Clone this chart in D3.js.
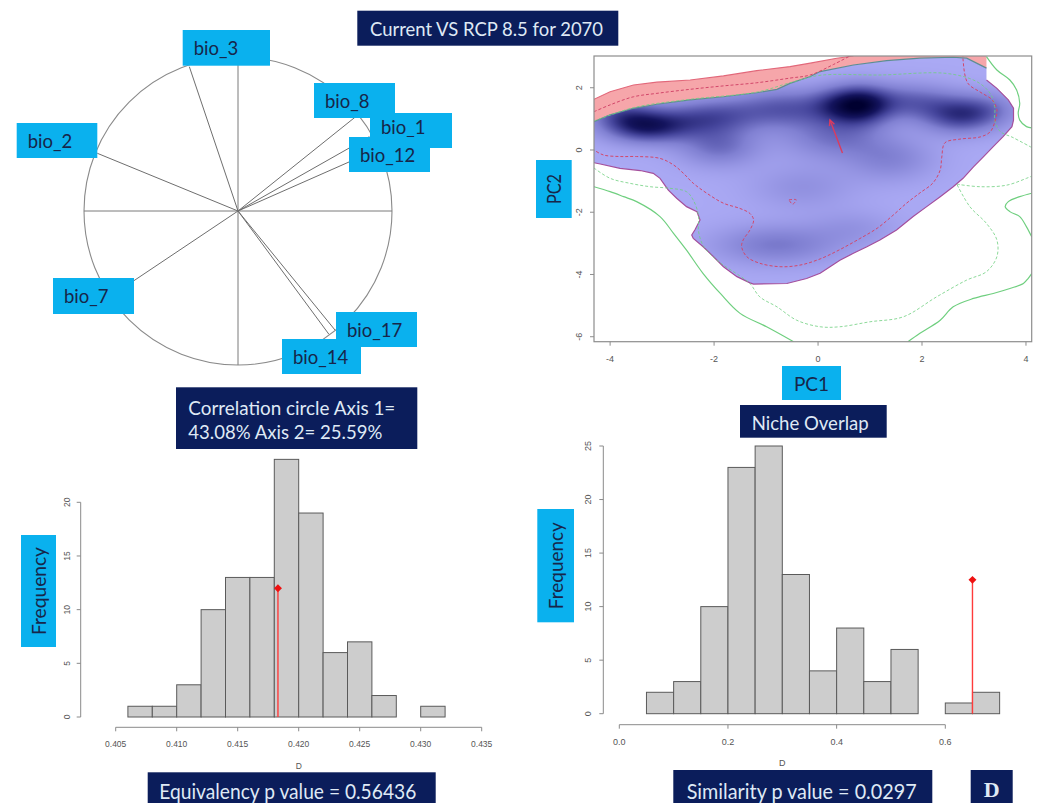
<!DOCTYPE html>
<html>
<head>
<meta charset="utf-8">
<script src="https://cdn.jsdelivr.net/npm/d3@7"></script>
<style>
  html, body { margin: 0; padding: 0; background: #ffffff; }
  svg { display: block; }
</style>
</head>
<body>
<svg id="fig" width="1038" height="803"></svg>
<script>
// ---------------- data ----------------
// correlation circle (PCA loadings on axes 1 and 2)
const corrVars  = ["bio_1", "bio_8", "bio_12", "bio_3", "bio_2", "bio_7", "bio_17", "bio_14"];
const corrAxis1 = [0.853, 0.765, 0.897, -0.316, -0.914, -0.814, 0.630, 0.590];
const corrAxis2 = [0.483, 0.613, 0.396, 0.937, 0.375, -0.545, -0.773, -0.800];

// equivalency test: simulated D histogram
const equivBreaks = [0.406, 0.408, 0.410, 0.412, 0.414, 0.416, 0.418, 0.420, 0.422, 0.424, 0.426, 0.428, 0.430, 0.432];
const equivCounts = [1, 1, 3, 10, 13, 13, 24, 19, 6, 7, 2, 0, 1];
const equivObs = 0.4183;
const equivTicksX = [0.405, 0.410, 0.415, 0.420, 0.425, 0.430, 0.435];
const equivTicksY = [0, 5, 10, 15, 20];

// similarity test: simulated D histogram
const simBreaks = [0.05, 0.10, 0.15, 0.20, 0.25, 0.30, 0.35, 0.40, 0.45, 0.50, 0.55, 0.60, 0.65, 0.70];
const simCounts = [2, 3, 10, 23, 25, 13, 4, 8, 3, 6, 0, 1, 2];
const simObs = 0.650;
const simTicksX = [0.0, 0.2, 0.4, 0.6];
const simTicksY = [0, 5, 10, 15, 20, 25];

// niche overlap in PC1/PC2 space
const pcTicksX = [-4, -2, 0, 2, 4];
const pcTicksY = [2, 0, -2, -4, -6];

// upper edge of the expansion (pink) band
const expansionTop = [[-4.31,1.63],[-4.0,1.87],[-3.55,2.09],[-3.10,2.18],[-2.46,2.25],[-1.82,2.38],
  [-1.18,2.55],[-0.54,2.68],[-0.15,2.79],[0.36,2.95],[0.68,3.02],[3.24,3.02]];
// upper edge of the stability (blue) zone
const stabilityTop = [[-4.31,0.91],[-4.0,1.13],[-3.55,1.34],[-3.10,1.47],[-2.46,1.61],[-1.82,1.71],
  [-1.18,1.84],[-0.79,1.95],[-0.54,2.14],[-0.15,2.36],[0.04,2.52],[0.68,2.73],[1.32,2.87],
  [1.96,2.95],[2.6,2.98],[2.86,2.95],[3.24,2.63]];
// rest of the stability outline, clockwise from the top right
const stabilityRest = [[3.24,2.25],[3.44,1.98],[3.66,1.61],[3.76,1.34],[3.76,0.96],[3.73,0.75],
  [3.56,0.43],[3.37,0.11],[3.18,-0.22],[2.99,-0.54],[2.79,-0.91],[2.60,-1.18],[2.35,-1.50],
  [2.09,-1.82],[1.83,-2.14],[1.51,-2.57],[1.19,-2.89],[0.94,-3.11],[0.68,-3.32],[0.42,-3.54],
  [0.23,-3.75],[0.04,-3.96],[-0.22,-4.13],[-0.60,-4.29],[-1.24,-4.31],[-1.31,-4.27],[-1.56,-4.07],
  [-1.82,-3.75],[-2.01,-3.43],[-2.21,-3.11],[-2.40,-2.84],[-2.43,-2.73],[-2.37,-2.57],[-2.27,-2.25],
  [-2.33,-1.98],[-2.53,-1.82],[-2.72,-1.55],[-2.88,-1.29],[-3.04,-0.91],[-3.17,-0.75],[-3.42,-0.66],
  [-3.81,-0.59],[-4.19,-0.45],[-4.31,-0.41]];

// occurrence density kernels: centre x, centre y, sd x, sd y, weight
const peakX  = [0.80, -3.30, -2.10, 2.70, 1.80, -0.60, -1.90, 0.30, 1.40, -0.80, -0.30, 0.70, -3.80, 3.30, 0.25];
const peakY  = [1.45, 0.75, 1.05, 1.10, 1.55, 1.35, 0.10, 0.40, -0.30, -3.05, -1.20, -2.50, 1.20, 1.30, 1.50];
const peakSX = [0.42, 0.58, 0.65, 0.50, 0.60, 0.75, 0.55, 0.70, 0.60, 0.85, 0.70, 0.60, 0.45, 0.45, 0.35];
const peakSY = [0.45, 0.38, 0.42, 0.42, 0.42, 0.45, 0.45, 0.50, 0.50, 0.45, 0.50, 0.40, 0.35, 0.40, 0.40];
const peakW  = [0.88, 0.80, 0.52, 0.60, 0.45, 0.52, 0.42, 0.38, 0.30, 0.38, 0.20, 0.16, 0.38, 0.28, 0.20];

// contour lines
const redDashedTop = [[-4.31,1.23],[-4.0,1.45],[-3.55,1.71],[-3.10,1.82],[-2.46,1.95],[-1.82,2.06],
  [-1.18,2.16],[-0.54,2.31],[-0.15,2.41],[0.3,2.75],[0.7,3.1]];
const redDashedMain = [[2.79,3.1],[2.79,2.89],[2.88,2.15],[3.12,1.86],[3.35,1.61],[3.44,1.29],[3.40,0.90],
  [3.31,0.58],[3.12,0.42],[2.73,0.35],[2.44,0.23],[2.38,-0.23],[2.35,-0.64],[2.21,-1.06],[1.96,-1.38],
  [1.71,-1.70],[1.44,-2.10],[1.15,-2.50],[0.80,-2.85],[0.42,-3.20],[0.04,-3.50],[-0.35,-3.70],
  [-0.73,-3.75],[-1.12,-3.64],[-1.37,-3.43],[-1.47,-3.11],[-1.44,-2.89],[-1.31,-2.57],[-1.24,-2.25],
  [-1.31,-2.04],[-1.50,-1.88],[-1.82,-1.71],[-2.14,-1.39],[-2.40,-1.07],[-2.59,-0.75],[-2.78,-0.48],
  [-3.04,-0.27],[-3.49,-0.21],[-3.81,-0.21],[-4.13,-0.16],[-4.31,0.0]];
const redSmall = [[-0.56,-1.60],[-0.42,-1.60],[-0.49,-1.74],[-0.56,-1.60]];
const greenSolidLeft = [[-4.31,-1.18],[-4.0,-1.34],[-3.74,-1.50],[-3.49,-1.66],[-3.04,-2.14],
  [-2.78,-2.68],[-2.53,-3.22],[-2.21,-3.97],[-1.88,-4.61],[-1.50,-5.25],[-0.99,-5.68],[-0.47,-6.16]];
const greenSolidRightLow = [[1.73,-6.16],[1.96,-5.89],[2.35,-5.47],[2.60,-5.04],[2.99,-4.77],
  [3.37,-4.61],[3.69,-4.45],[3.95,-4.29],[4.04,-4.13],[4.11,-3.97]];
const greenSolidRightTop = [[3.24,3.0],[3.44,2.57],[3.69,2.25],[3.82,1.93],[3.88,1.50],[3.85,1.18],
  [3.88,0.96],[4.01,0.75],[4.11,0.71]];
const greenSolidRightMid = [[4.11,-1.39],[3.88,-1.50],[3.66,-1.66],[3.60,-1.82],[3.69,-1.98],
  [3.88,-2.14],[4.01,-2.47],[4.11,-2.79]];
const greenDashedLeft = [[-4.31,-0.58],[-4.0,-0.91],[-3.62,-1.07],[-3.23,-1.18],[-2.85,-1.23],
  [-2.53,-1.34],[-2.40,-1.61],[-2.30,-2.10],[-2.30,-2.60],[-2.20,-3.10],[-1.90,-3.60],[-1.50,-4.05],
  [-1.31,-4.29],[-1.12,-4.72],[-0.79,-5.04],[-0.41,-5.47],[0.04,-5.68],[0.42,-5.68],[1.0,-5.52],
  [1.64,-5.36],[2.28,-4.72],[2.86,-4.18],[3.24,-3.91],[3.44,-3.43],[3.44,-2.89],[3.24,-2.36],
  [2.92,-1.82],[2.67,-1.10]];
const greenDashedRight = [[2.67,-1.10],[3.12,-1.18],[3.63,-1.13],[4.01,-0.91],[4.11,-0.84]];
const greenDashedTop = [[-4.31,0.93],[-3.55,1.36],[-2.46,1.63],[-1.18,1.86],[-0.54,2.16],[0.04,2.40],
  [1.19,2.41],[2.47,2.46],[3.05,2.20],[3.31,1.82],[3.40,1.39],[3.40,0.96],[3.50,0.60],[3.75,0.40],[4.11,0.08]];

// shift of the niche centroid
const centroidFrom = [0.47, -0.10];
const centroidTo   = [0.23, 0.96];

// ---------------- drawing ----------------
const NAVY = "#0b1d5b", NAVY_TEXT = "#dfe9f5", CYAN = "#0ab1ee", CYAN_TEXT = "#17264a";
const UI_FONT = "Lato, 'Open Sans', sans-serif";
const R_FONT = "'Liberation Sans', Arial, sans-serif";
const svg = d3.select("#fig");
const defs = svg.append("defs");

function fitText(sel, width) {
  sel.attr("textLength", width).attr("lengthAdjust", "spacingAndGlyphs");
}

function navyBox(x, y, w, h, lines, tx, size, widths, lineYs) {
  const g = svg.append("g");
  g.append("rect").attr("x", x).attr("y", y).attr("width", w).attr("height", h).attr("fill", NAVY);
  lines.forEach((t, i) => {
    const el = g.append("text").attr("x", tx).attr("y", lineYs[i])
      .attr("dominant-baseline", "central")
      .attr("font-family", UI_FONT).attr("font-size", size).attr("fill", NAVY_TEXT).text(t);
    fitText(el, widths[i]);
  });
  return g;
}

function cyanBox(x, y, w, h, label, size, tw, rotate, dy) {
  const g = svg.append("g");
  g.append("rect").attr("x", x).attr("y", y).attr("width", w).attr("height", h).attr("fill", CYAN);
  const el = g.append("text")
    .attr("font-family", UI_FONT).attr("font-size", size).attr("fill", CYAN_TEXT)
    .attr("dominant-baseline", "central").text(label);
  if (rotate) {
    el.attr("text-anchor", "middle")
      .attr("transform", `translate(${x + w / 2},${y + h / 2}) rotate(-90)`);
  } else {
    el.attr("x", x + 11).attr("y", y + h / 2 + (dy || 0));
  }
  if (tw) fitText(el, tw);
  return g;
}

// ---- title ----
navyBox(357.3, 10.7, 261, 35, ["Current VS RCP 8.5 for 2070"], 370, 19.5, [233], [28.5]);

// ---- correlation circle ----
{
  const cx = 238, cy = 211, R = 154;
  const sx = d3.scaleLinear([-1, 1], [cx - R, cx + R]);
  const sy = d3.scaleLinear([-1, 1], [cy + R, cy - R]);
  const g = svg.append("g");
  g.append("circle").attr("cx", sx(0)).attr("cy", sy(0)).attr("r", sx(1) - sx(0))
    .attr("fill", "none").attr("stroke", "#8a8a8a").attr("stroke-width", 1.1);
  g.append("line").attr("x1", sx(-1)).attr("x2", sx(1)).attr("y1", sy(0)).attr("y2", sy(0))
    .attr("stroke", "#7a7a7a").attr("stroke-width", 1);
  g.append("line").attr("x1", sx(0)).attr("x2", sx(0)).attr("y1", sy(-1)).attr("y2", sy(1))
    .attr("stroke", "#7a7a7a").attr("stroke-width", 1);
  corrVars.forEach((v, i) => {
    g.append("line").attr("x1", sx(0)).attr("y1", sy(0))
      .attr("x2", sx(corrAxis1[i])).attr("y2", sy(corrAxis2[i]))
      .attr("stroke", "#6e6e6e").attr("stroke-width", 1);
  });
  // variable name tags, in stacking order: [x, y, width, height, text shift]
  const tagBox = {
    bio_1: [370, 113, 82, 35, -4], bio_8: [314, 83, 81, 35, 0], bio_12: [349, 137, 81, 35, 0],
    bio_3: [182.7, 30, 87.3, 35.7, 0], bio_2: [16.7, 123, 80.6, 35, 0], bio_7: [53, 278, 81, 36, 0],
    bio_17: [336, 312, 81, 35, 0], bio_14: [282, 339, 79, 35, 0]
  };
  corrVars.forEach(v => {
    const b = tagBox[v];
    cyanBox(b[0], b[1], b[2], b[3], v, 18.5, null, false, b[4]);
  });
}
navyBox(176, 387.3, 241.3, 61.7,
  ["Correlation circle Axis 1=", "43.08% Axis 2= 25.59%"], 188.3, 19.5, [207, 194], [407, 431.5]);

// ---- niche overlap ----
{
  const x = d3.scaleLinear([-4.31, 4.11], [594, 1031.7]);
  const y = d3.scaleLinear([-6.16, 3.02], [341.7, 56]);
  const line = d3.line().x(d => x(d[0])).y(d => y(d[1]));
  const smooth = d3.line().x(d => x(d[0])).y(d => y(d[1])).curve(d3.curveCatmullRom.alpha(0.5));

  defs.append("clipPath").attr("id", "frameClip").append("rect")
    .attr("x", x(-4.31)).attr("y", y(3.02)).attr("width", x(4.11) - x(-4.31)).attr("height", y(-6.16) - y(3.02));
  const stability = stabilityTop.concat(stabilityRest);
  defs.append("clipPath").attr("id", "stabClip").append("path").attr("d", line(stability) + "Z");

  const g = svg.append("g").attr("clip-path", "url(#frameClip)");

  // expansion band
  const expansion = expansionTop.concat([[3.24, 2.63]], stabilityTop.slice().reverse());
  g.append("path").attr("d", line(expansion) + "Z").attr("fill", "#f6a6aa").attr("stroke", "none");
  g.append("path").attr("d", line(expansionTop.slice(0, 11))).attr("fill", "none")
    .attr("stroke", "#e2687a").attr("stroke-width", 1.1);

  // occurrence density raster, shaded from light lavender to dark navy
  const px0 = Math.floor(x.range()[0]), px1 = Math.ceil(x.range()[1]);
  const py0 = Math.floor(y.range()[1]), py1 = Math.ceil(y.range()[0]);
  const W = px1 - px0, H = py1 - py0;
  const canvas = document.createElement("canvas");
  canvas.width = W; canvas.height = H;
  const ctx = canvas.getContext("2d");
  const img = ctx.createImageData(W, H);
  const shade = d3.scaleLinear([0, 0.35, 0.65, 0.9, 1.15], ["#aaa9f4", "#8080d2", "#45459c", "#14145e", "#000030"])
    .clamp(true);
  for (let j = 0; j < H; j++) {
    const vy = y.invert(py0 + j + 0.5);
    for (let i = 0; i < W; i++) {
      const vx = x.invert(px0 + i + 0.5);
      let f = 0;
      for (let k = 0; k < peakX.length; k++) {
        const dx = (vx - peakX[k]) / peakSX[k], dy = (vy - peakY[k]) / peakSY[k];
        f += peakW[k] * Math.exp(-0.5 * (dx * dx + dy * dy));
      }
      const c = d3.rgb(shade(f));
      const o = 4 * (j * W + i);
      img.data[o] = c.r; img.data[o + 1] = c.g; img.data[o + 2] = c.b; img.data[o + 3] = 255;
    }
  }
  ctx.putImageData(img, 0, 0);
  g.append("image").attr("x", px0).attr("y", py0).attr("width", W).attr("height", H)
    .attr("href", canvas.toDataURL()).attr("clip-path", "url(#stabClip)");

  g.append("path").attr("d", line(stabilityRest))
    .attr("fill", "none").attr("stroke", "#a44f9c").attr("stroke-width", 1.2);
  g.append("path").attr("d", line(stabilityTop)).attr("fill", "none")
    .attr("stroke", "#5d8d92").attr("stroke-width", 1.2);

  // contours of available environment
  const green = "#6fcf7f";
  [greenSolidLeft, greenSolidRightLow, greenSolidRightTop, greenSolidRightMid].forEach(c => {
    g.append("path").attr("d", smooth(c)).attr("fill", "none").attr("stroke", green).attr("stroke-width", 1.2);
  });
  [greenDashedLeft, greenDashedRight, greenDashedTop].forEach(c => {
    g.append("path").attr("d", smooth(c)).attr("fill", "none").attr("stroke", green)
      .attr("stroke-width", 1).attr("stroke-dasharray", "3,2").attr("opacity", 0.8);
  });
  // occurrence density contours
  [redDashedTop, redDashedMain, redSmall].forEach(c => {
    g.append("path").attr("d", smooth(c)).attr("fill", "none").attr("stroke", "#d2476a")
      .attr("stroke-width", 1).attr("stroke-dasharray", "3,2");
  });

  // centroid shift arrow
  const x0 = x(centroidFrom[0]), y0 = y(centroidFrom[1]), x1 = x(centroidTo[0]), y1 = y(centroidTo[1]);
  const ang = Math.atan2(y1 - y0, x1 - x0), hl = 6, ha = 0.45;
  g.append("line").attr("x1", x0).attr("y1", y0).attr("x2", x1).attr("y2", y1)
    .attr("stroke", "#dc3b5e").attr("stroke-width", 1.4);
  g.append("path").attr("d",
    `M${x1 - hl * Math.cos(ang - ha)},${y1 - hl * Math.sin(ang - ha)}L${x1},${y1}L${x1 - hl * Math.cos(ang + ha)},${y1 - hl * Math.sin(ang + ha)}`)
    .attr("fill", "none").attr("stroke", "#dc3b5e").attr("stroke-width", 1.4);

  // frame and axes
  svg.append("rect").attr("x", x(-4.31)).attr("y", y(3.02)).attr("width", x(4.11) - x(-4.31))
    .attr("height", y(-6.16) - y(3.02)).attr("fill", "none").attr("stroke", "#8d8d8d").attr("stroke-width", 1.2);
  const ax = svg.append("g").attr("font-family", R_FONT).attr("font-size", 9).attr("fill", "#555");
  pcTicksX.forEach(t => {
    ax.append("line").attr("x1", x(t)).attr("x2", x(t)).attr("y1", y(-6.16)).attr("y2", y(-6.16) + 4)
      .attr("stroke", "#8d8d8d");
    ax.append("text").attr("x", x(t)).attr("y", 359).attr("text-anchor", "middle")
      .attr("dominant-baseline", "central").text(t);
  });
  pcTicksY.forEach(t => {
    ax.append("line").attr("x1", x(-4.31)).attr("x2", x(-4.31) - 4).attr("y1", y(t)).attr("y2", y(t))
      .attr("stroke", "#8d8d8d");
    ax.append("text").attr("transform", `translate(578.5,${y(t)}) rotate(-90)`)
      .attr("text-anchor", "middle").attr("dominant-baseline", "central").text(t);
  });
}
cyanBox(536, 160, 35.7, 58, "PC2", 19, 30, true);
cyanBox(782, 366, 59, 34, "PC1", 19, null, false).select("text")
  .attr("x", 811.5).attr("text-anchor", "middle");
navyBox(740, 405, 146.7, 32.7, ["Niche Overlap"], 751.7, 19, [117], [422.5]);

// ---- histograms ----
function histogram(opts) {
  const { breaks, counts, obs, ticksX, ticksY, xr, yr, dom, ymax, axisY, labelY, dY, yAxisX, yLabelX, fs } = opts;
  const x = d3.scaleLinear(dom, xr);
  const y = d3.scaleLinear([0, ymax], yr);
  const g = svg.append("g");
  counts.forEach((c, i) => {
    if (c === 0) return;
    g.append("rect").attr("x", x(breaks[i])).attr("y", y(c))
      .attr("width", x(breaks[i + 1]) - x(breaks[i])).attr("height", y(0) - y(c))
      .attr("fill", "#cdcdcd").attr("stroke", "#5a5a5a").attr("stroke-width", 1);
  });
  const peak = d3.max(counts) / 2;
  g.append("line").attr("x1", x(obs)).attr("x2", x(obs)).attr("y1", y(0)).attr("y2", y(peak))
    .attr("stroke", "#ff3b3b").attr("stroke-width", 1.4);
  g.append("path").attr("d", d3.symbol(d3.symbolDiamond2, 40)())
    .attr("transform", `translate(${x(obs)},${y(peak)})`).attr("fill", "#ee1111");

  const ax = svg.append("g").attr("font-family", R_FONT).attr("font-size", fs).attr("fill", "#555");
  ax.append("line").attr("x1", x(ticksX[0])).attr("x2", x(ticksX[ticksX.length - 1]))
    .attr("y1", axisY).attr("y2", axisY).attr("stroke", "#8a8a8a");
  ticksX.forEach(t => {
    ax.append("line").attr("x1", x(t)).attr("x2", x(t)).attr("y1", axisY).attr("y2", axisY + 4).attr("stroke", "#8a8a8a");
    ax.append("text").attr("x", x(t)).attr("y", labelY).attr("text-anchor", "middle")
      .attr("dominant-baseline", "central").text(d3.format(opts.fmt)(t));
  });
  ax.append("text").attr("x", (x(ticksX[0]) + x(ticksX[ticksX.length - 1])) / 2).attr("y", dY)
    .attr("text-anchor", "middle").attr("dominant-baseline", "central").text("D");
  ax.append("line").attr("x1", yAxisX).attr("x2", yAxisX).attr("y1", y(ticksY[0]))
    .attr("y2", y(ticksY[ticksY.length - 1])).attr("stroke", "#8a8a8a");
  ticksY.forEach(t => {
    ax.append("line").attr("x1", yAxisX).attr("x2", yAxisX - 4).attr("y1", y(t)).attr("y2", y(t)).attr("stroke", "#8a8a8a");
    ax.append("text").attr("transform", `translate(${yLabelX},${y(t)}) rotate(-90)`)
      .attr("text-anchor", "middle").attr("dominant-baseline", "central").text(t);
  });
}

histogram({
  breaks: equivBreaks, counts: equivCounts, obs: equivObs, ticksX: equivTicksX, ticksY: equivTicksY,
  dom: [0.405, 0.435], xr: [115.7, 481.7], ymax: 20, yr: [717, 502.3],
  axisY: 727.3, labelY: 744, dY: 766, yAxisX: 80.7, yLabelX: 66.7, fs: 8.5, fmt: ".3f"
});
histogram({
  breaks: simBreaks, counts: simCounts, obs: simObs, ticksX: simTicksX, ticksY: simTicksY,
  dom: [0, 0.6], xr: [619.3, 945.3], ymax: 25, yr: [713.7, 446],
  axisY: 724.7, labelY: 741.7, dY: 763, yAxisX: 603.3, yLabelX: 588.3, fs: 9, fmt: ".1f"
});

cyanBox(21, 535, 35, 112, "Frequency", 19.5, 88, true);
cyanBox(537.3, 509, 36.7, 113.3, "Frequency", 19.5, 87, true);
navyBox(147.7, 772.3, 288, 31, ["Equivalency p value = 0.56436"], 159.3, 21, [257], [790]);
navyBox(673.3, 770, 259, 33, ["Similarity p value = 0.0297"], 686.7, 21, [230], [790]);
{
  const g = svg.append("g");
  g.append("rect").attr("x", 970.7).attr("y", 770).attr("width", 42).attr("height", 33).attr("fill", NAVY);
  g.append("text").attr("x", 991.7).attr("y", 789).attr("text-anchor", "middle").attr("dominant-baseline", "central")
    .attr("font-family", "'Liberation Serif', 'DejaVu Serif', serif").attr("font-weight", "bold")
    .attr("font-size", 22).attr("fill", NAVY_TEXT).text("D");
}
</script>
</body>
</html>
